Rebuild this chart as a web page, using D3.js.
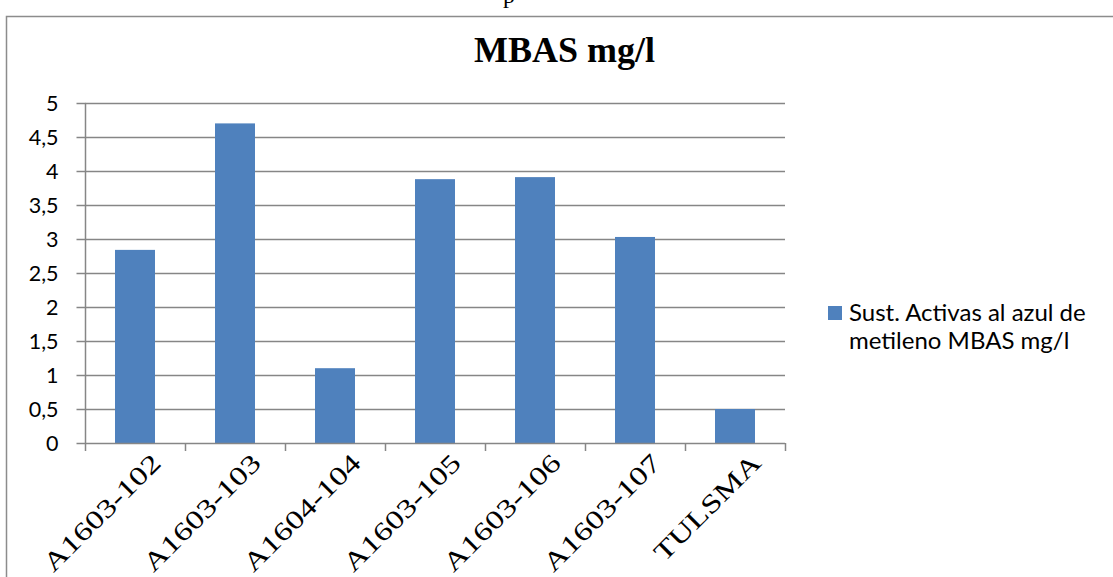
<!DOCTYPE html>
<html>
<head>
<meta charset="utf-8">
<script src="https://cdn.jsdelivr.net/npm/d3@7/dist/d3.min.js"></script>
<style>
  html, body { margin: 0; padding: 0; background: #fff; }
  svg { display: block; }
</style>
</head>
<body>
<svg id="chart" width="1113" height="577"></svg>
<script>
// Sample points and their MBAS concentration (mg/l)
const categories = ["A1603-102", "A1603-103", "A1604-104", "A1603-105", "A1603-106", "A1603-107", "TULSMA"];
const values = [2.84, 4.70, 1.10, 3.88, 3.91, 3.03, 0.50];
const yTicks = [0, 0.5, 1, 1.5, 2, 2.5, 3, 3.5, 4, 4.5, 5];
const seriesName = ["Sust. Activas al azul de", "metileno MBAS mg/l"];
const chartTitle = "MBAS mg/l";

const svg = d3.select("#chart");
const barColor = "#4F81BD";
const gridColor = "#868686";
const sansFont = "Lato, 'Open Sans', sans-serif";
const serifFont = "'Liberation Serif', 'Times New Roman', serif";

// Trailing descender of the text line sitting above the chart frame
svg.append("text")
  .attr("x", 503).attr("y", 3)
  .attr("font-family", serifFont).attr("font-size", 24)
  .text("p");

// Chart frame
svg.append("rect")
  .attr("x", 6.5).attr("y", 16.5)
  .attr("width", 1120).attr("height", 600)
  .attr("fill", "none").attr("stroke", "#8c8c8c").attr("stroke-width", 1.5);

const plot = { left: 85, right: 785, top: 103, bottom: 443 };

const x = d3.scaleBand().domain(categories).range([plot.left, plot.right]).paddingInner(0.6).paddingOuter(0.3);
const xOuter = d3.scaleBand().domain(categories).range([plot.left, plot.right]);
const y = d3.scaleLinear().domain([0, 5]).range([plot.bottom, plot.top]);

// Horizontal gridlines
svg.append("g")
  .selectAll("line")
  .data(yTicks.filter(d => d > 0))
  .join("line")
  .attr("x1", plot.left).attr("x2", plot.right)
  .attr("y1", d => Math.round(y(d)) + 0.5).attr("y2", d => Math.round(y(d)) + 0.5)
  .attr("stroke", gridColor).attr("stroke-width", 1.5);

// Bars
svg.append("g")
  .selectAll("rect")
  .data(values)
  .join("rect")
  .attr("x", (d, i) => x(categories[i]))
  .attr("width", x.bandwidth())
  .attr("y", d => y(d))
  .attr("height", d => y(0) - y(d))
  .attr("fill", barColor);

// Y axis
const yAxis = d3.axisLeft(y)
  .tickValues(yTicks)
  .tickSize(9)
  .tickPadding(18)
  .tickFormat(d => String(d).replace(".", ","));
const gy = svg.append("g")
  .attr("transform", `translate(${plot.left + 0.5},0)`)
  .call(yAxis);
gy.selectAll("path, line").attr("stroke", gridColor).attr("stroke-width", 1.5);
gy.select(".domain").attr("d", `M0,${plot.top}V${plot.bottom}`);
gy.selectAll("text")
  .attr("font-family", sansFont).attr("font-size", 21.5)
  .attr("dy", "0.33em")
  .attr("fill", "#000");

// X axis with boundary ticks between categories
const gx = svg.append("g");
gx.append("line")
  .attr("x1", plot.left).attr("x2", plot.right)
  .attr("y1", plot.bottom + 0.5).attr("y2", plot.bottom + 0.5)
  .attr("stroke", gridColor).attr("stroke-width", 1.5);
const boundaries = categories.map(c => xOuter(c)).concat([plot.right]);
gx.selectAll("line.tick")
  .data(boundaries)
  .join("line")
  .attr("class", "tick")
  .attr("x1", d => Math.round(d) + 0.5).attr("x2", d => Math.round(d) + 0.5)
  .attr("y1", plot.bottom).attr("y2", plot.bottom + 8)
  .attr("stroke", gridColor).attr("stroke-width", 1.5);

// Rotated category labels, elongated along their baseline
gx.selectAll("text")
  .data(categories)
  .join("text")
  .attr("transform", d => `translate(${xOuter(d) + xOuter.bandwidth() / 2 + 21},${plot.bottom + 15}) rotate(-45) scale(1.3,1)`)
  .attr("text-anchor", "end")
  .attr("dy", "0.35em")
  .attr("font-family", serifFont).attr("font-size", 26)
  .attr("fill", "#000")
  .text(d => d);

// Title
svg.append("text")
  .attr("x", 564.5).attr("y", 62)
  .attr("text-anchor", "middle")
  .attr("font-family", serifFont).attr("font-weight", "bold").attr("font-size", 36)
  .text(chartTitle);

// Legend
const legend = svg.append("g");
legend.append("rect")
  .attr("x", 828).attr("y", 306).attr("width", 14).attr("height", 14)
  .attr("fill", barColor);
legend.selectAll("text")
  .data(seriesName)
  .join("text")
  .attr("x", 849)
  .attr("y", (d, i) => 321 + i * 28)
  .attr("font-family", sansFont).attr("font-size", 24)
  .attr("fill", "#000")
  .text(d => d);
</script>
</body>
</html>
